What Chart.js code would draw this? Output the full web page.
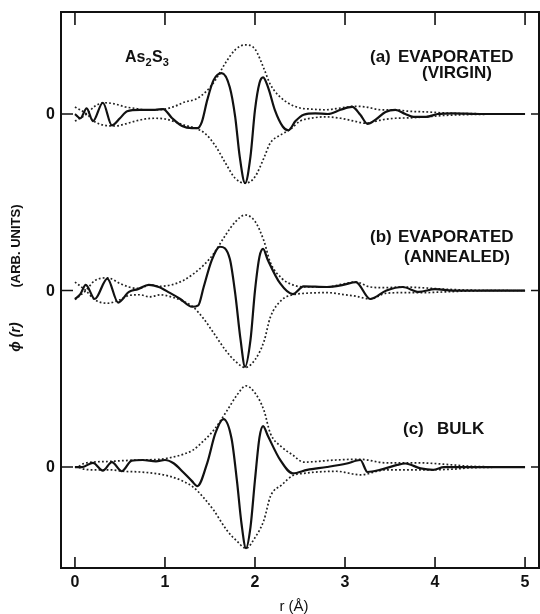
<!DOCTYPE html>
<html>
<head>
<meta charset="utf-8">
<script src="https://cdn.jsdelivr.net/npm/chart.js@4.4.1/dist/chart.umd.min.js"></script>
<style>
  html, body { margin: 0; padding: 0; background: #fff; }
  #wrap { width: 540px; height: 614px; }
</style>
</head>
<body>
<div id="wrap"><canvas id="phiChart" width="540" height="614"></canvas></div>
<script>
// r axis ticks (Angstrom) and vertical offset of each panel
const xTicks = [0, 1, 2, 3, 4, 5];
const panelOffsets = [5, 2.5, 0];

// (a) evaporated, virgin
const rSolidA = [0, 0.06, 0.13, 0.2, 0.31, 0.41, 0.5, 0.58, 0.72, 0.89, 0.98, 1.08, 1.19, 1.3, 1.36, 1.41, 1.47, 1.54, 1.63, 1.72, 1.78, 1.83, 1.89, 1.95, 2.0, 2.05, 2.09, 2.15, 2.22, 2.31, 2.37, 2.45, 2.54, 2.67, 2.81, 2.95, 3.08, 3.17, 3.25, 3.34, 3.45, 3.56, 3.67, 3.76, 3.9, 4.03, 4.2, 4.5, 5.0];
const solidA = [0, -0.06, 0.08, -0.1, 0.16, -0.16, -0.06, 0.04, 0.06, 0.06, 0.07, -0.06, -0.17, -0.2, -0.2, -0.11, 0.2, 0.48, 0.58, 0.38, -0.04, -0.6, -0.98, -0.6, 0.06, 0.44, 0.52, 0.36, 0.06, -0.18, -0.23, -0.1, -0.01, 0.01, 0, 0.06, 0.1, -0.01, -0.14, -0.08, 0.03, 0.06, 0, -0.04, -0.04, 0, 0.01, 0, 0];
const rEnvA = [0, 0.13, 0.22, 0.33, 0.45, 0.56, 0.67, 0.78, 0.89, 1.0, 1.11, 1.22, 1.34, 1.45, 1.56, 1.67, 1.78, 1.89, 2.0, 2.1, 2.17, 2.28, 2.39, 2.5, 2.62, 2.78, 2.95, 3.1, 3.23, 3.4, 3.56, 3.7, 3.9, 4.1, 4.3, 4.6, 5.0];
const upperA = [-0.1, 0, 0.11, 0.16, 0.14, 0.1, 0.08, 0.06, 0.06, 0.07, 0.11, 0.17, 0.21, 0.31, 0.48, 0.72, 0.91, 0.98, 0.92, 0.64, 0.42, 0.24, 0.14, 0.085, 0.07, 0.06, 0.085, 0.11, 0.1, 0.06, 0.06, 0.04, 0.03, 0.015, 0.007, 0.003, 0];
const lowerA = [0.1, 0, -0.11, -0.16, -0.17, -0.14, -0.1, -0.07, -0.06, -0.07, -0.11, -0.16, -0.2, -0.28, -0.45, -0.69, -0.91, -0.98, -0.89, -0.62, -0.41, -0.3, -0.22, -0.1, -0.06, -0.04, -0.06, -0.1, -0.13, -0.085, -0.06, -0.055, -0.04, -0.02, -0.01, -0.003, 0];

// (b) evaporated, annealed
const rSolidB = [0, 0.06, 0.12, 0.22, 0.36, 0.48, 0.6, 0.7, 0.82, 0.93, 1.05, 1.17, 1.3, 1.37, 1.43, 1.52, 1.61, 1.72, 1.78, 1.84, 1.89, 1.95, 2.0, 2.05, 2.09, 2.14, 2.28, 2.42, 2.54, 2.8, 2.98, 3.12, 3.28, 3.46, 3.64, 3.82, 4.0, 4.2, 4.5, 5.0];
const solidB = [-0.12, -0.05, 0.08, -0.12, 0.17, -0.17, -0.02, 0.02, 0.08, 0.05, -0.03, -0.12, -0.23, -0.21, 0.05, 0.43, 0.62, 0.45, -0.04, -0.7, -1.08, -0.7, 0, 0.48, 0.59, 0.44, 0.1, -0.05, 0.06, 0.05, 0.08, 0.12, -0.12, 0, 0.05, -0.02, 0.02, 0, 0, 0];
const rEnvB = [0, 0.12, 0.22, 0.36, 0.5, 0.6, 0.72, 0.83, 0.95, 1.07, 1.2, 1.31, 1.43, 1.54, 1.67, 1.78, 1.89, 2.0, 2.1, 2.17, 2.3, 2.42, 2.55, 2.8, 3.0, 3.12, 3.28, 3.45, 3.64, 3.85, 4.1, 4.4, 5.0];
const upperB = [-0.13, 0, 0.14, 0.18, 0.1, 0.05, 0.03, 0.08, 0.06, 0.08, 0.14, 0.23, 0.36, 0.52, 0.78, 0.97, 1.07, 0.98, 0.7, 0.4, 0.17, 0.08, 0.05, 0.05, 0.1, 0.12, 0.05, 0.04, 0.05, 0.04, 0.02, 0.005, 0];
const lowerB = [0.12, 0, -0.13, -0.18, -0.13, -0.07, -0.06, -0.09, -0.06, -0.09, -0.15, -0.23, -0.4, -0.6, -0.84, -1.0, -1.09, -0.98, -0.72, -0.38, -0.13, -0.06, -0.04, -0.03, -0.06, -0.08, -0.12, -0.04, -0.03, -0.03, -0.02, -0.005, 0];

// (c) bulk
const rSolidC = [0, 0.08, 0.2, 0.31, 0.41, 0.52, 0.63, 0.75, 0.9, 1.0, 1.1, 1.2, 1.3, 1.36, 1.47, 1.56, 1.65, 1.74, 1.8, 1.85, 1.9, 1.95, 2.0, 2.05, 2.09, 2.14, 2.28, 2.42, 2.58, 2.8, 3.02, 3.17, 3.25, 3.39, 3.58, 3.67, 3.84, 3.98, 4.1, 4.5, 5.0];
const solidC = [0, 0, 0.06, -0.05, 0.07, -0.06, 0.09, 0.1, 0.08, 0.1, 0.05, -0.07, -0.2, -0.27, 0.06, 0.48, 0.68, 0.4, -0.2, -0.8, -1.15, -0.85, -0.18, 0.42, 0.58, 0.45, 0.1, -0.09, -0.04, 0, 0.05, 0.1, -0.07, -0.04, 0.03, 0.05, -0.02, -0.04, 0, 0, 0];
const rEnvC = [0, 0.02, 0.1, 0.2, 0.39, 0.53, 0.72, 0.94, 1.05, 1.2, 1.31, 1.42, 1.54, 1.69, 1.8, 1.9, 2.0, 2.1, 2.17, 2.3, 2.42, 2.54, 2.9, 3.17, 3.45, 3.8, 4.2, 4.4, 5.0];
const upperC = [0, 0, 0.05, 0.07, 0.08, 0.09, 0.1, 0.11, 0.13, 0.18, 0.24, 0.36, 0.52, 0.8, 1.02, 1.15, 1.05, 0.8, 0.48, 0.28, 0.17, 0.07, 0.1, 0.11, 0.06, 0.06, 0.03, 0.01, 0];
const lowerC = [0, 0, -0.03, -0.04, -0.04, -0.06, -0.07, -0.1, -0.13, -0.2, -0.28, -0.42, -0.61, -0.9, -1.05, -1.15, -1.0, -0.75, -0.42, -0.25, -0.12, -0.09, -0.06, -0.11, -0.04, -0.04, -0.03, -0.01, 0];

const panels = [
  { rSolid: rSolidA, solid: solidA, rEnv: rEnvA, upper: upperA, lower: lowerA },
  { rSolid: rSolidB, solid: solidB, rEnv: rEnvB, upper: upperB, lower: lowerB },
  { rSolid: rSolidC, solid: solidC, rEnv: rEnvC, upper: upperC, lower: lowerC }
];

const toPoints = (rs, vs, off) => rs.map((r, i) => ({ x: r, y: vs[i] + off }));

const datasets = [];
panels.forEach((p, i) => {
  const off = panelOffsets[i];
  datasets.push({
    data: toPoints(p.rSolid, p.solid, off),
    borderColor: '#111', borderWidth: 2.2
  });
  datasets.push({
    data: toPoints(p.rEnv, p.upper, off),
    borderColor: '#222', borderWidth: 1.7, borderDash: [1.8, 2.2]
  });
  datasets.push({
    data: toPoints(p.rEnv, p.lower, off),
    borderColor: '#222', borderWidth: 1.7, borderDash: [1.8, 2.2]
  });
});
datasets.forEach(d => {
  d.showLine = true;
  d.pointRadius = 0;
  d.fill = false;
  d.cubicInterpolationMode = 'monotone';
});

const FONT = "'Liberation Sans', Arial, sans-serif";

const frame = {
  id: 'frame',
  beforeDraw(chart) {
    const ctx = chart.ctx;
    ctx.save();
    ctx.fillStyle = '#fff';
    ctx.fillRect(0, 0, chart.width, chart.height);
    ctx.restore();
  },
  afterDatasetsDraw(chart) {
    const { ctx, chartArea: a, scales: { x, y } } = chart;
    ctx.save();
    ctx.strokeStyle = '#111';
    ctx.fillStyle = '#111';
    ctx.lineWidth = 2;
    ctx.strokeRect(a.left, a.top, a.right - a.left, a.bottom - a.top);

    // r ticks, inside top and bottom
    ctx.lineWidth = 1.6;
    ctx.font = 'bold 16px ' + FONT;
    ctx.textAlign = 'center';
    ctx.textBaseline = 'alphabetic';
    xTicks.forEach(t => {
      const px = x.getPixelForValue(t);
      ctx.beginPath();
      ctx.moveTo(px, a.top); ctx.lineTo(px, a.top + 13);
      ctx.moveTo(px, a.bottom); ctx.lineTo(px, a.bottom - 11);
      ctx.stroke();
      ctx.fillText(String(t), px, 587);
    });

    // zero of each panel
    ctx.textAlign = 'right';
    ctx.textBaseline = 'middle';
    panelOffsets.forEach(o => {
      const py = y.getPixelForValue(o);
      ctx.beginPath();
      ctx.moveTo(a.left, py); ctx.lineTo(a.left + 12, py);
      ctx.moveTo(a.right, py); ctx.lineTo(a.right - 8, py);
      ctx.stroke();
      ctx.fillText('0', 55, py + 1);
    });

    // panel notes
    ctx.textBaseline = 'alphabetic';
    ctx.textAlign = 'left';
    ctx.font = 'bold 17px ' + FONT;
    ctx.fillText('(a)', 370, 62);
    ctx.fillText('EVAPORATED', 398, 62);
    ctx.fillText('(b)', 370, 242);
    ctx.fillText('EVAPORATED', 398, 242);
    ctx.fillText('(c)', 403, 434);
    ctx.fillText('BULK', 437, 434);
    ctx.textAlign = 'center';
    ctx.fillText('(VIRGIN)', 457, 78);
    ctx.fillText('(ANNEALED)', 457, 262);

    // As2S3
    ctx.textAlign = 'left';
    let cx = 125;
    ['As', '2', 'S', '3'].forEach((s, i) => {
      const sub = i % 2 === 1;
      ctx.font = (sub ? 'bold 11px ' : 'bold 16px ') + FONT;
      ctx.fillText(s, cx, sub ? 66 : 62);
      cx += ctx.measureText(s).width + (sub ? 0.5 : 0);
    });

    // axis titles
    ctx.font = '15px ' + FONT;
    ctx.textAlign = 'center';
    ctx.fillText('r (Å)', 294, 611);

    ctx.translate(20, 0);
    ctx.rotate(-Math.PI / 2);
    ctx.font = 'bold 13px ' + FONT;
    ctx.fillText('(ARB. UNITS)', -246, 0);
    ctx.font = 'bold italic 14px ' + FONT;
    ctx.fillText('ϕ (r)', -337, 0);
    ctx.restore();
  }
};

new Chart(document.getElementById('phiChart'), {
  type: 'scatter',
  data: { datasets: datasets },
  options: {
    responsive: false,
    devicePixelRatio: 1,
    animation: false,
    layout: { padding: { left: 61, right: 1, top: 12, bottom: 46 } },
    plugins: { legend: { display: false }, tooltip: { enabled: false } },
    scales: {
      x: { type: 'linear', min: -0.155, max: 5.155, display: false },
      y: { type: 'linear', min: -1.43, max: 6.445, display: false }
    }
  },
  plugins: [frame]
});
</script>
</body>
</html>
